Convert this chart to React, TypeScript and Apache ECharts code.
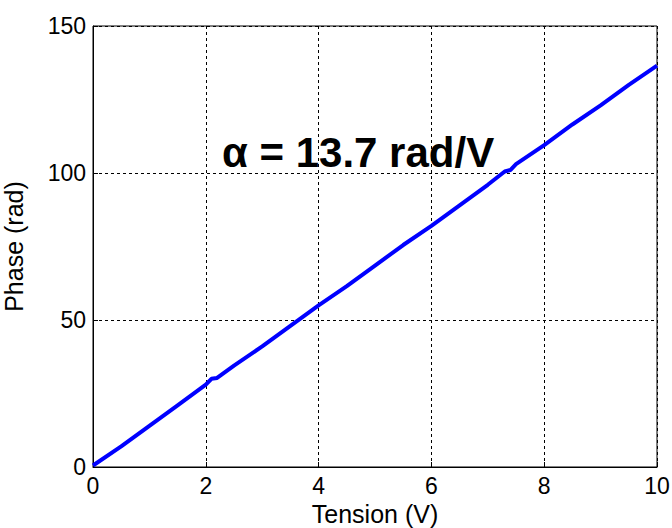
import React, { useEffect, useRef } from "react";
import * as echarts from "echarts";

const tension = [0, 0.5, 1, 1.5, 2, 2.1, 2.2, 2.5, 3, 3.5, 4, 4.5, 5, 5.5, 6, 6.5, 7, 7.3, 7.4, 7.5, 8, 8.5, 9, 9.5, 10];
const phase = [0.5, 7, 14, 21, 28, 30, 30.3, 34.5, 41, 48, 55, 61.5, 68.5, 75.5, 82, 89, 96, 100.5, 101, 103, 109.5, 116.5, 123, 130, 136.5];
const xTicks = [0, 2, 4, 6, 8, 10];
const yTicks = [0, 50, 100, 150];
const annotation = "α = 13.7 rad/V";
const xTitle = "Tension (V)";
const yTitle = "Phase (rad)";

export default function App() {
  const ref = useRef<HTMLDivElement>(null);
  useEffect(() => {
    if (!ref.current) return;
    const chart = echarts.init(ref.current, null, { renderer: "svg" });
    const font = "'Liberation Sans', Arial, sans-serif";
    chart.setOption({
      animation: false,
      backgroundColor: "#fff",
      grid: {
        left: 93,
        right: 15,
        top: 26,
        bottom: 61,
        show: true,
        borderColor: "#000",
        borderWidth: 1,
        outerBoundsMode: "none",
        containLabel: false,
      },
      xAxis: {
        type: "value",
        min: xTicks[0],
        max: xTicks[xTicks.length - 1],
        interval: 2,
        name: xTitle,
        nameLocation: "middle",
        nameGap: 45,
        nameTextStyle: { fontFamily: font, fontSize: 25, color: "#000", verticalAlign: "middle", lineHeight: 25 },
        axisLine: { lineStyle: { color: "#000", width: 1 } },
        axisTick: { inside: true, length: 5, lineStyle: { color: "#000" } },
        axisLabel: { fontFamily: font, fontSize: 23, color: "#000", margin: 7 },
        splitLine: { show: true, lineStyle: { color: "#000", type: [3, 3], width: 1 } },
      },
      yAxis: {
        type: "value",
        min: yTicks[0],
        max: yTicks[yTicks.length - 1],
        interval: 50,
        name: yTitle,
        nameLocation: "middle",
        nameGap: 67,
        nameTextStyle: { fontFamily: font, fontSize: 25, color: "#000", lineHeight: 25 },
        axisLine: { show: true, lineStyle: { color: "#000", width: 1 } },
        axisTick: { show: true, inside: true, length: 5, lineStyle: { color: "#000" } },
        axisLabel: { fontFamily: font, fontSize: 23, color: "#000", margin: 7 },
        splitLine: { show: true, lineStyle: { color: "#000", type: [3, 3], width: 1 } },
      },
      series: [
        {
          type: "line",
          data: tension.map((t, i) => [t, phase[i]]),
          showSymbol: false,
          lineStyle: { color: "#0000ff", width: 4 },
          itemStyle: { color: "#0000ff" },
        },
      ],
      graphic: [
        {
          type: "text",
          left: 222,
          top: 131,
          style: { text: annotation, fontFamily: font, fontSize: 42, fontWeight: "bold", fill: "#000" },
        },
      ],
    });
    return () => chart.dispose();
  }, []);
  return <div ref={ref} style={{ width: 672, height: 528, position: "absolute", left: 0, top: 0 }} />;
}
